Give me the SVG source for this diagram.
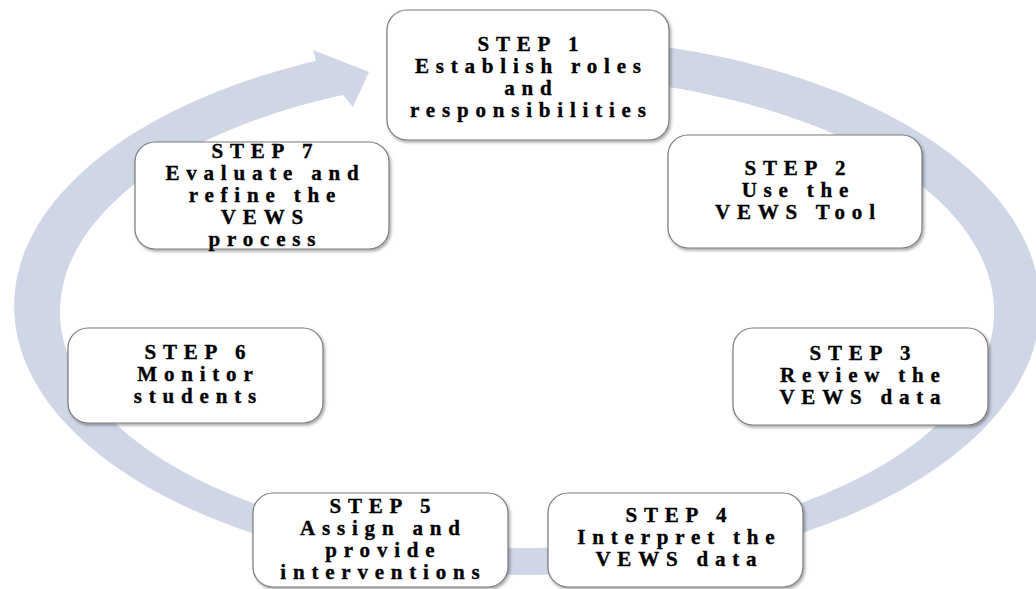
<svg xmlns="http://www.w3.org/2000/svg" width="1036" height="589" viewBox="0 0 1036 589">
<defs>
<style>
.box{fill:#ffffff;stroke:#7a7a7a;stroke-width:1.2;filter:url(#sh)}
.t{font-family:"Liberation Serif","Times New Roman",serif;font-weight:bold;font-size:21px;letter-spacing:6.8px;fill:#000;stroke:#000;stroke-width:0.35;text-anchor:middle}
.band{fill:#cfd7e7;stroke:none}
</style>
<filter id="sh" x="-10%" y="-10%" width="120%" height="130%">
<feDropShadow dx="1.5" dy="2" stdDeviation="1.5" flood-color="#000" flood-opacity="0.35"/>
</filter>
</defs>
<rect width="1036" height="589" fill="#ffffff"/>
<g id="connectors">
<path class="band" d="M 480,38.1 A 513 269 0 1 1 316,60.8 L 313,50 L 369,72 L 353,107 L 343,95.1 A 467 236 0 1 0 480,77.2 Z"/>
</g>
<g id="step1">
<rect class="box" x="387" y="10" width="282" height="130" rx="20"/>
<text class="t" x="531.4" y="51">STEP 1</text>
<text class="t" x="531.4" y="73">Establish roles</text>
<text class="t" x="531.4" y="95">and</text>
<text class="t" x="531.4" y="117">responsibilities</text>
</g>
<g id="step2">
<rect class="box" x="668" y="135" width="254" height="113" rx="20"/>
<text class="t" x="798.4" y="175">STEP 2</text>
<text class="t" x="798.4" y="197">Use the</text>
<text class="t" x="798.4" y="219">VEWS Tool</text>
</g>
<g id="step3">
<rect class="box" x="733" y="328" width="255" height="97" rx="20"/>
<text class="t" x="863.4" y="360">STEP 3</text>
<text class="t" x="863.4" y="382">Review the</text>
<text class="t" x="863.4" y="404">VEWS data</text>
</g>
<g id="step4">
<rect class="box" x="548" y="493" width="255" height="94" rx="20"/>
<text class="t" x="679.4" y="522">STEP 4</text>
<text class="t" x="679.4" y="544">Interpret the</text>
<text class="t" x="679.4" y="566">VEWS data</text>
</g>
<g id="step5">
<rect class="box" x="253" y="493" width="255" height="94" rx="20"/>
<text class="t" x="383.4" y="513">STEP 5</text>
<text class="t" x="383.4" y="535">Assign and</text>
<text class="t" x="383.4" y="557">provide</text>
<text class="t" x="383.4" y="579">interventions</text>
</g>
<g id="step6">
<rect class="box" x="68" y="328" width="255" height="95" rx="20"/>
<text class="t" x="198.4" y="359">STEP 6</text>
<text class="t" x="198.4" y="381">Monitor</text>
<text class="t" x="198.4" y="403">students</text>
</g>
<g id="step7">
<rect class="box" x="135" y="142" width="254" height="107" rx="20"/>
<text class="t" x="265.4" y="158">STEP 7</text>
<text class="t" x="265.4" y="180">Evaluate and</text>
<text class="t" x="265.4" y="202">refine the</text>
<text class="t" x="265.4" y="224">VEWS</text>
<text class="t" x="265.4" y="246">process</text>
</g>
</svg>
